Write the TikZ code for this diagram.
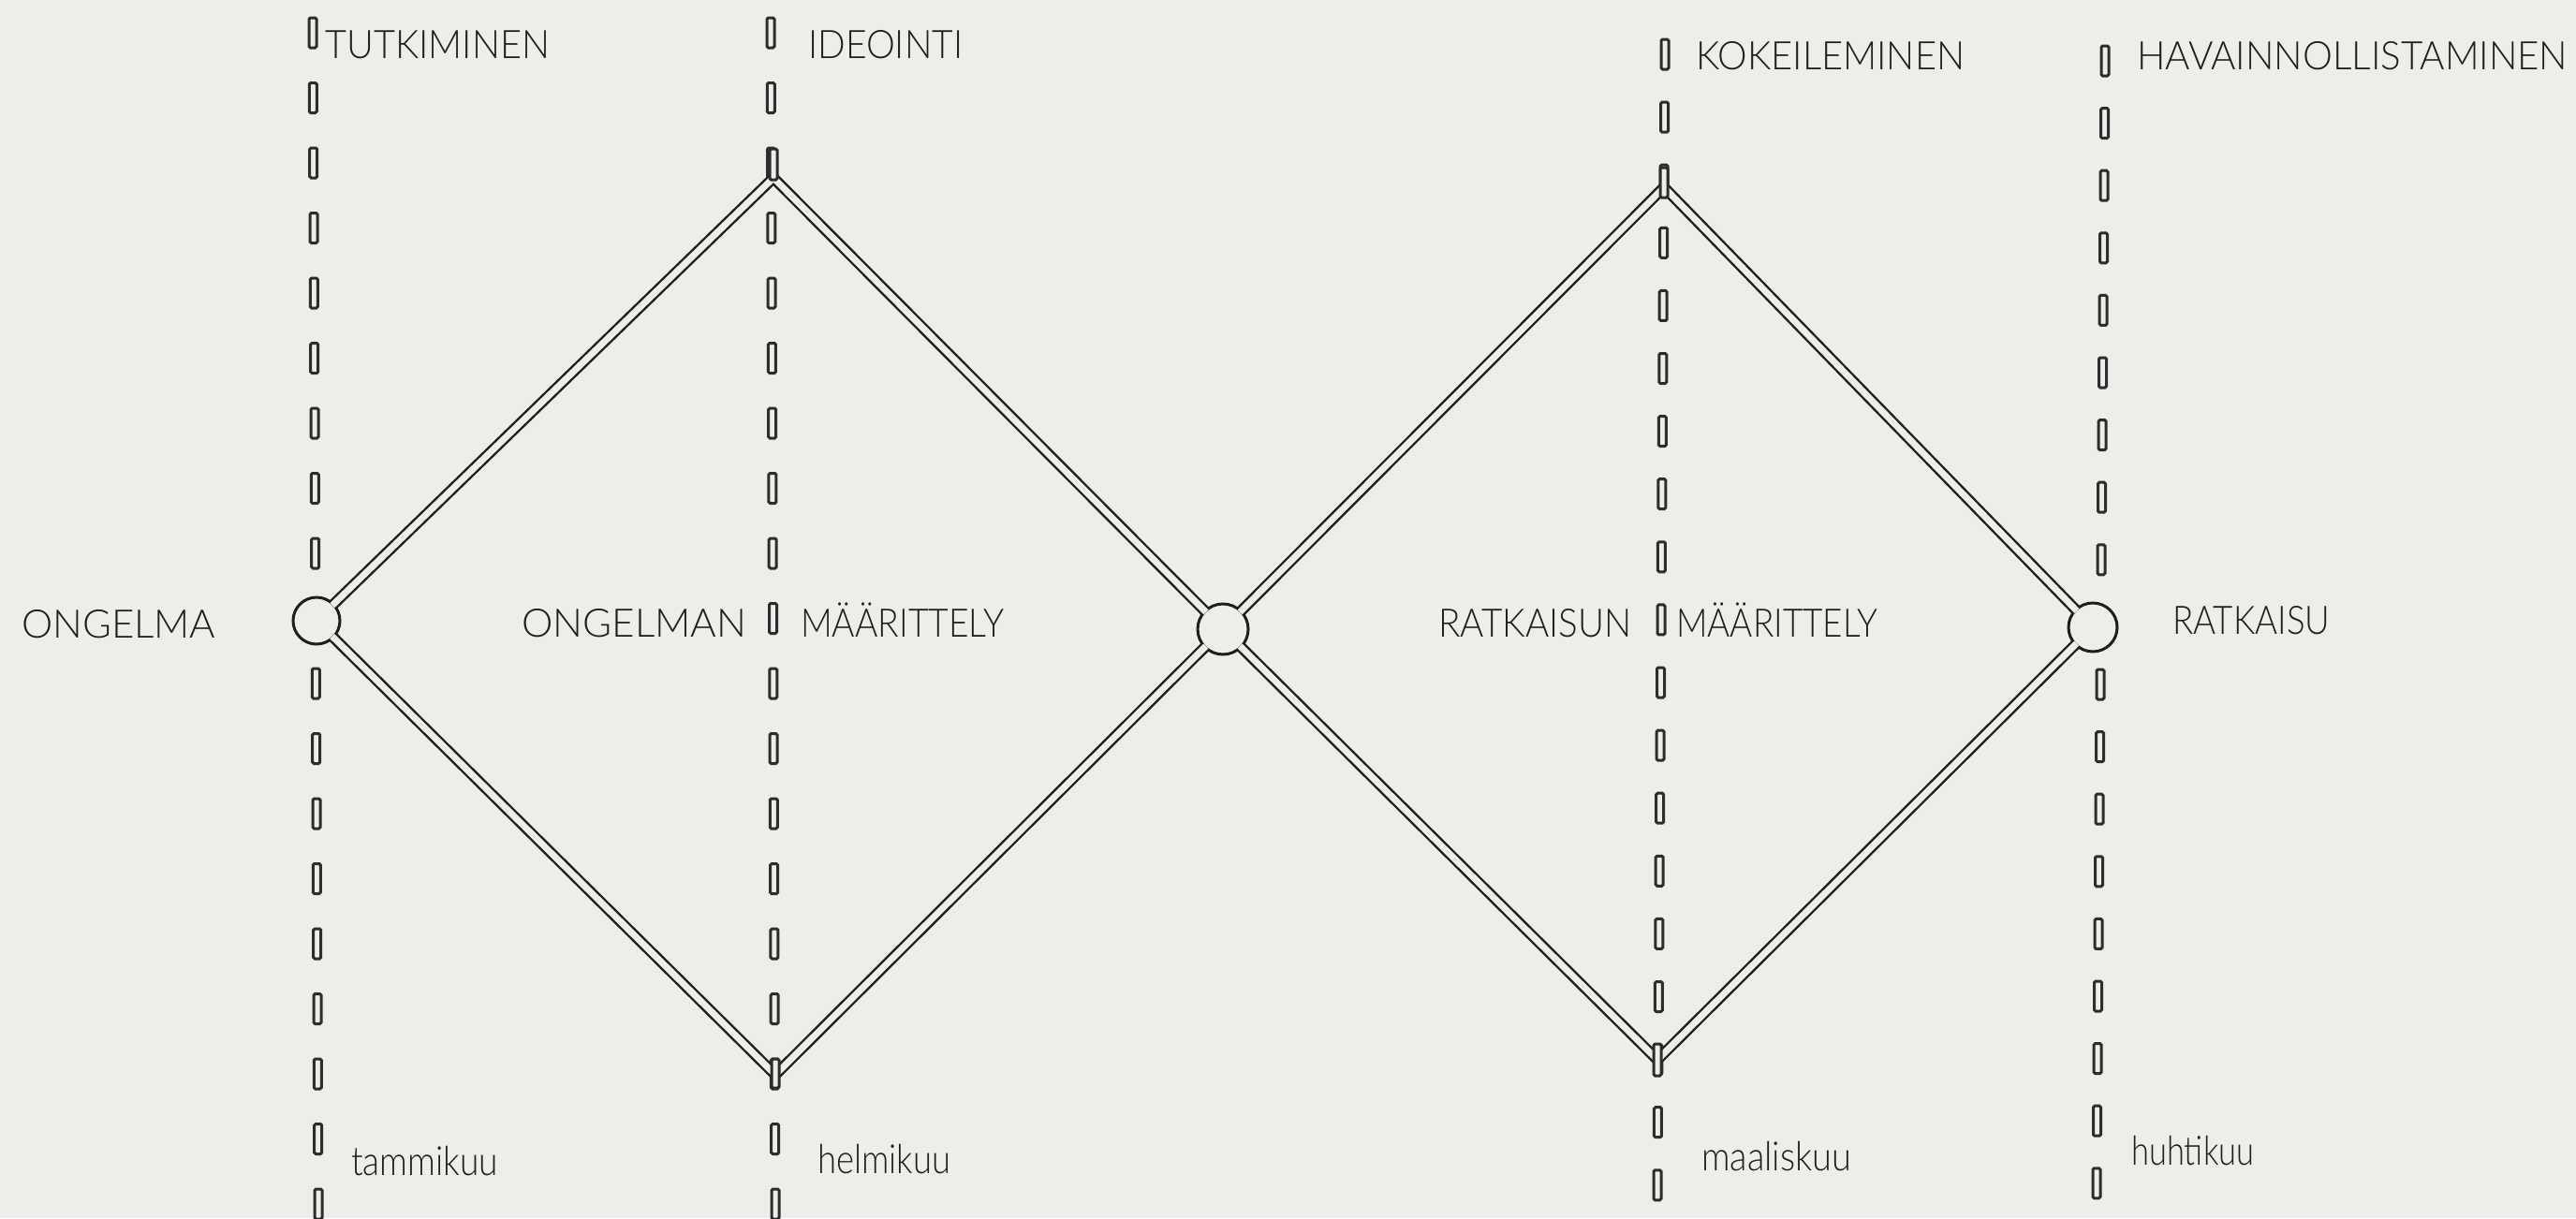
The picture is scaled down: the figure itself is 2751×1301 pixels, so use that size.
\documentclass[tikz,border=0pt]{standalone}
\usepackage{fontspec}
\usepackage{graphicx}
\setmainfont{Lato Light}
\definecolor{bgc}{RGB}{238,237,233}
\definecolor{ink}{RGB}{30,30,30}
\definecolor{dashink}{RGB}{45,45,45}
\newcommand{\fitw}[2]{\resizebox{#1pt}{\height}{#2}}
\tikzset{
  pipe/.style={draw=ink, line width=2.4pt, double=bgc, double distance=7pt, line join=miter, shorten <=-3pt, shorten >=-3pt},
  hub/.style={circle, draw=ink, line width=3pt, fill=bgc, inner sep=0pt},
  tick/.style={draw=dashink, line width=3pt, fill=bgc, rounded corners=1.5pt},
  lab/.style={anchor=base west, inner sep=0pt, text=ink, font=\fontsize{42}{48}\selectfont},
  mon/.style={anchor=base west, inner sep=0pt, text=ink, font=\fontsize{43}{50}\selectfont}
}
\begin{document}
\begin{tikzpicture}[x=1pt,y=-1pt]
\fill[bgc] (0,0) rectangle (2751,1301);
\useasboundingbox (0,0) rectangle (2751,1301);
% dashed guide lines
\foreach \k in {0,...,18}{
  \ifnum\k=9\else
  \pgfmathsetmacro{\yy}{35+69.5*\k}
  \pgfmathsetmacro{\xx}{334+6*\k/18}
  \draw[tick] (\xx-4,\yy-16) rectangle (\xx+4,\yy+16);
  \fi
  \pgfmathsetmacro{\yy}{35+69.5*\k}
  \pgfmathsetmacro{\xx}{823+5*\k/18}
  \draw[tick] (\xx-4,\yy-16) rectangle (\xx+4,\yy+16);
  \pgfmathsetmacro{\yy}{58+67.1*\k}
  \pgfmathsetmacro{\xx}{1778-8*\k/18}
  \draw[tick] (\xx-4,\yy-16) rectangle (\xx+4,\yy+16);
  \ifnum\k=9\else
  \pgfmathsetmacro{\yy}{65+66.6*\k}
  \pgfmathsetmacro{\xx}{2248-9*\k/18}
  \draw[tick] (\xx-4,\yy-16) rectangle (\xx+4,\yy+16);
  \fi
}
% hubs
\node[hub, minimum size=50pt] (c1) at (338,663) {};
\node[hub, minimum size=54pt] (c2) at (1306,672) {};
\node[hub, minimum size=52pt] (c3) at (2235,670) {};
% apexes
\coordinate (t1) at (826,190);
\coordinate (b1) at (828,1148);
\coordinate (t2) at (1777,200);
\coordinate (b2) at (1770,1132);
% diamonds
\draw[pipe] (c1) -- (t1) -- (c2);
\draw[pipe] (c1) -- (b1) -- (c2);
\draw[pipe] (c2) -- (t2) -- (c3);
\draw[pipe] (c2) -- (b2) -- (c3);
% apex ticks on top
\draw[tick] (822,159) rectangle (830,192);
\draw[tick] (824,1131) rectangle (832,1162);
\draw[tick] (1773,179) rectangle (1781,211);
\draw[tick] (1766,1115) rectangle (1774,1149);
% labels
\node[lab] (l1) at (347,62) {\fitw{240}{TUTKIMINEN}};
\node[lab] (l2) at (863,62) {\fitw{165}{IDEOINTI}};
\node[lab] (l3) at (1811,74) {\fitw{287}{KOKEILEMINEN}};
\node[lab] (l4) at (2282,74) {\fitw{460}{HAVAINNOLLISTAMINEN}};
\node[lab] (l5) at (23,681) {\fitw{207}{ONGELMA}};
\node[lab] (l6) at (557,680) {\fitw{240}{ONGELMAN}};
\node[lab] (l7) at (855,680) {\fitw{217}{MÄÄRITTELY}};
\node[lab] (l8) at (1536,680) {\fitw{206}{RATKAISUN}};
\node[lab] (l9) at (1790,680) {\fitw{215}{MÄÄRITTELY}};
\node[lab] (l10) at (2320,677) {\fitw{168}{RATKAISU}};
\node[mon] (m1) at (375,1255) {\fitw{157}{tammikuu}};
\node[mon] (m2) at (873,1253) {\fitw{142}{helmikuu}};
\node[mon] (m3) at (1817,1250) {\fitw{160}{maaliskuu}};
\node[mon] (m4) at (2276,1244) {\fitw{131}{huhtikuu}};
\end{tikzpicture}
\end{document}
